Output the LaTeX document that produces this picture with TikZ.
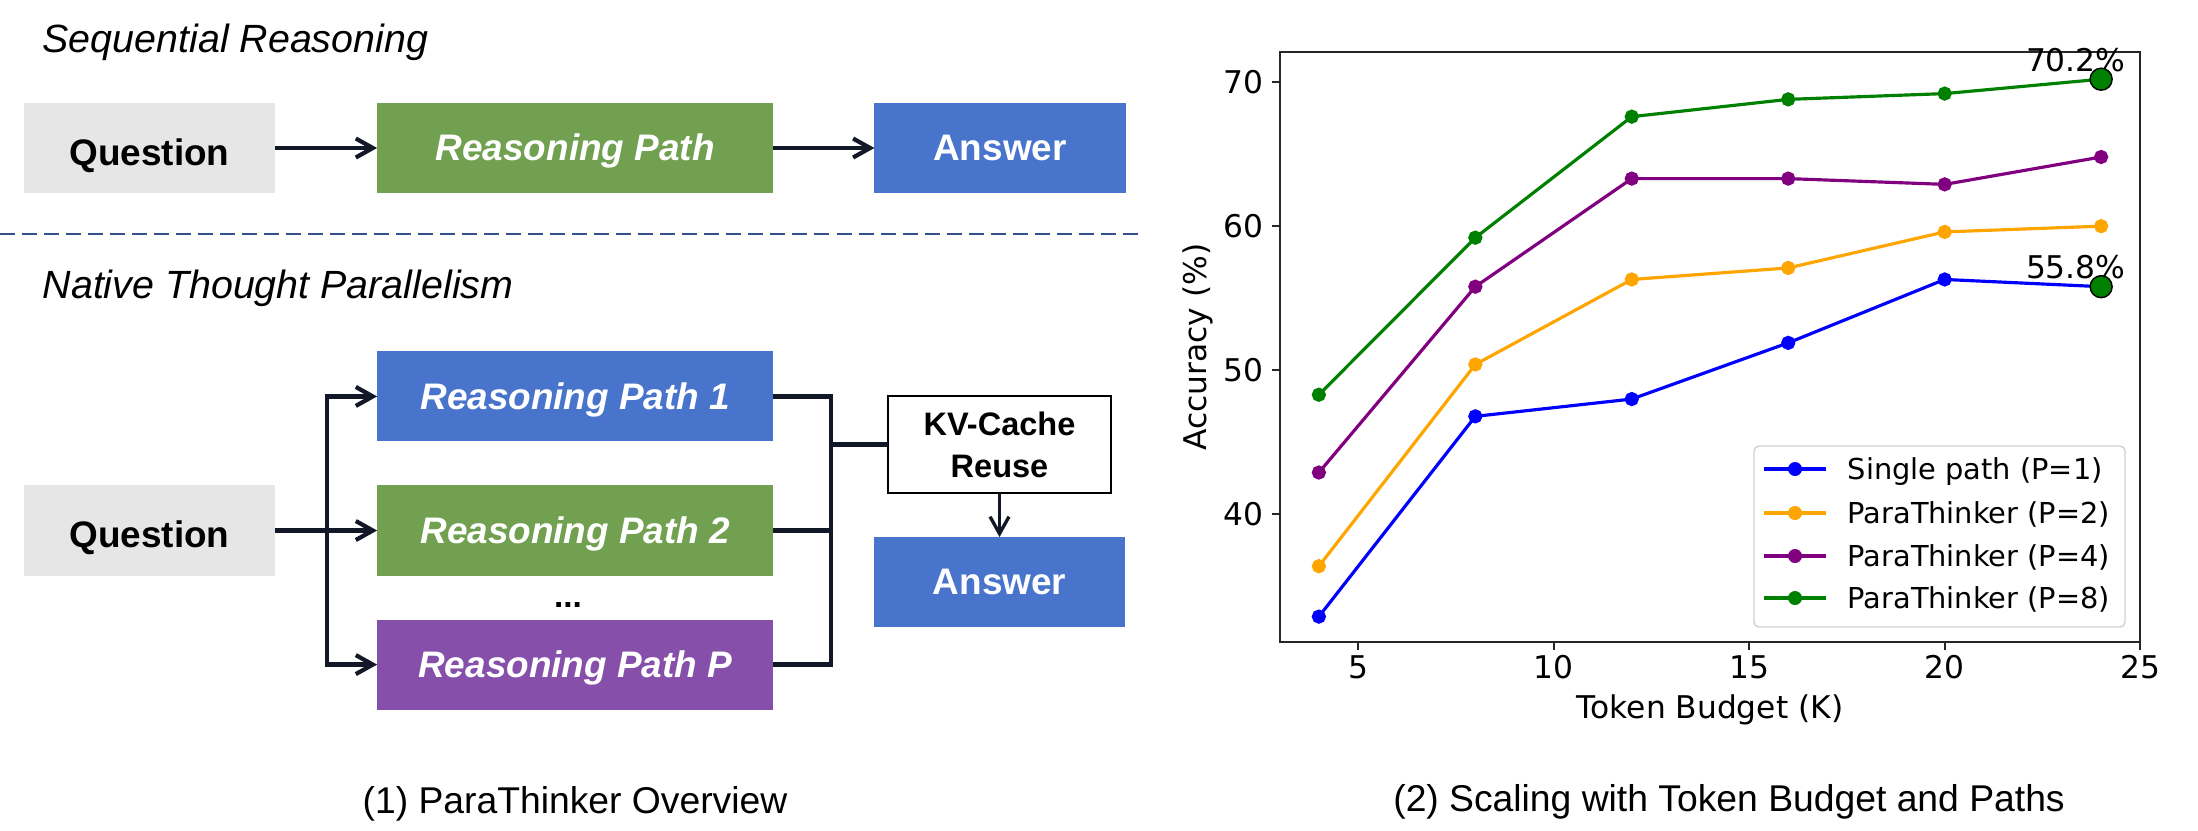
\documentclass[tikz,border=0pt]{standalone}
\usepackage{fontspec}
\setmainfont{Liberation Sans}
\newfontfamily\mplfont{DejaVu Sans}
\usetikzlibrary{
  arrows.meta,
  chains,
  positioning,
  scopes
}
\definecolor{qgray}{HTML}{E6E6E6}
\definecolor{pathgreen}{HTML}{70A050}
\definecolor{pathblue}{HTML}{4874CB}
\definecolor{pathpurple}{HTML}{8650AA}
\definecolor{wirecol}{HTML}{121827}
\definecolor{sepblue}{HTML}{34508C}
\definecolor{mplorange}{HTML}{FFA500}
\definecolor{mplpurple}{HTML}{800080}
\definecolor{mplgreen}{HTML}{008000}

\begin{document}
\begin{tikzpicture}[
      x=0.01cm, y=-0.01cm,
      block/.style={
         rectangle,
         inner sep=0pt, outer sep=0pt,
         minimum width=2.51cm,
         minimum height=0.9cm,
         font=\fontsize{10.5}{12}\selectfont\bfseries,
         text height=0.716em,
         text depth=0pt
      },
      question/.style={block, fill=qgray, text height=0.97em},
      answer/.style={block, fill=pathblue, text=white},
      reasonbox/.style={
         block,
         minimum width=3.96cm,
         text=white,
         font=\fontsize{10.5}{12}\selectfont\bfseries\itshape
      },
      cachebox/.style={
         rectangle,
         draw=black, line width=0.6pt, fill=white,
         minimum width=2.23cm, minimum height=0.97cm,
         inner sep=0pt, outer sep=0pt,
         align=center,
         font=\fontsize{9.25}{11.95}\selectfont\bfseries
      },
      sectitle/.style={anchor=base west, inner sep=0pt, font=\fontsize{11.2}{13}\selectfont\itshape},
      subcap/.style={anchor=base, inner sep=0pt, font=\fontsize{10.6}{12}\selectfont},
      wire/.style={draw=wirecol, line width=1.2pt},
      tip/.style={wire, -{Straight Barb[length=1.7mm, width=1.9mm]}},
      thin tip/.style={draw=wirecol, line width=0.95pt, -{Straight Barb[length=1.7mm, width=1.9mm]}},
      every join/.style={wire},
      % plot styles
      spine/.style={draw=black!85, line width=0.57pt},
      ticklab/.style={inner sep=0pt, font=\mplfont\fontsize{8.9}{10}\selectfont},
      curve/.style={line width=0.9pt, mark size=0.055cm},
      bigdot/.style={circle, fill=mplgreen, draw=black, line width=0.4pt, minimum size=0.22cm, inner sep=0pt},
      legtext/.style={anchor=base west, inner sep=0pt, font=\mplfont\fontsize{8.2}{10}\selectfont}
    ]
    \useasboundingbox (0,0) rectangle (2198,830);

    % sequential reasoning
    \node (t1) [sectitle] at (42,52) {Sequential Reasoning};
    \node (q1) [question] at (149.5,148) {Question};
    \node (r1) [reasonbox, fill=pathgreen, right=1.02cm of q1] {Reasoning Path};
    \node (a1) [answer, right=1.01cm of r1] {Answer};
  { [start chain]
       \chainin (q1);
       \chainin (r1)    [join=by tip];
       \chainin (a1)    [join=by tip];
  }

    \draw[draw=sepblue, line width=0.8pt, dash pattern=on 0.15cm off 0.07cm] (0,234) -- (1138,234);

    % native thought parallelism
    \node (t2) [sectitle] at (42,298) {Native Thought Parallelism};
    \node (q2) [question] at (149.5,530.5) {Question};
    \node (p2) [reasonbox, fill=pathgreen, right=1.02cm of q2] {Reasoning Path 2};
    \node (p1) [reasonbox, fill=pathblue, above=0.44cm of p2] {Reasoning Path 1};
    \node (pP) [reasonbox, fill=pathpurple, below=0.44cm of p2] {Reasoning Path P};
    \node (dots) [anchor=base, inner sep=0pt, font=\fontsize{9.5}{12}\selectfont\bfseries] at (568,607) {...};
    \node (kv) [cachebox] at (999.5,444.5) {KV-Cache\\Reuse};
    \node (a2) [answer, below=0.44cm of kv] {Answer};

    \coordinate (fork) at (327,530.5);
    \coordinate (merge) at (831,444.5);
    \draw[tip] (q2) -- (p2);
    \draw[tip] (fork) |- (p1);
    \draw[tip] (fork) |- (pP);
    \draw[wire] (p1.east) -| (merge) |- (pP.east);
    \draw[wire] (p2.east) -- (p2.east -| merge);
    \draw[wire] (merge) -- (kv);
    \draw[thin tip] (kv) -- (a2);

    \node (c1) [subcap] at (575,813) {(1) ParaThinker Overview};

    % accuracy plot
  \begin{scope}[shift={(11.6173cm,-10.9cm)}, x=0.3909cm, y=0.144cm]
    \draw[spine] (3,31.111) rectangle (25,72.083);
    \foreach \t in {5,10,15,20,25} {
       \draw[spine] (\t,31.111) -- ++(0cm,-0.08cm);
       \node[ticklab, anchor=base] at ([yshift=-0.36cm]\t,31.111) {\t};
    }
    \foreach \v in {40,50,60,70} {
       \draw[spine] (3,\v) -- ++(-0.08cm,0cm);
       \node[ticklab, anchor=base east] at ([xshift=-0.155cm,yshift=-0.113cm]3,\v) {\v};
    }
    \node (xl) [ticklab, anchor=base] at ([yshift=-0.76cm]14,31.111) {Token Budget (K)};
    \node (yl) [ticklab, anchor=base, rotate=90] at (1.1325,51.597) {Accuracy (\%)};

    \draw[curve, blue] plot[mark=*] coordinates {(4,32.9) (8,46.8) (12,48.0) (16,51.9) (20,56.3) (24,55.8)};
    \draw[curve, mplorange] plot[mark=*] coordinates {(4,36.4) (8,50.4) (12,56.3) (16,57.1) (20,59.6) (24,60.0)};
    \draw[curve, mplpurple] plot[mark=*] coordinates {(4,42.9) (8,55.8) (12,63.3) (16,63.3) (20,62.9) (24,64.8)};
    \draw[curve, mplgreen] plot[mark=*] coordinates {(4,48.3) (8,59.2) (12,67.6) (16,68.8) (20,69.2) (24,70.2)};

    \node (l8) [ticklab, anchor=base] at (23.35,70.76) {70.2\%};
    \node (l1) [ticklab, anchor=base] at (23.35,56.39) {55.8\%};
    \node (m8) [bigdot] at (24,70.2) {};
    \node (m1) [bigdot] at (24,55.8) {};
  \end{scope}

    % legend
    \draw[draw=black!18, fill=white, line width=0.4pt, rounded corners=0.05cm] (1754,446) rectangle (2125,627);
    \foreach \c/\r/\t in {blue/469/Single path (P=1), mplorange/513/ParaThinker (P=2), mplpurple/556/ParaThinker (P=4), mplgreen/598/ParaThinker (P=8)} {
       \draw[\c, line width=0.9pt] (1764,\r) -- (1826,\r);
       \fill[\c] (1795,\r) circle[radius=0.07cm];
       \node[legtext] at (1847,\r+10) {\t};
    }

    \node (c2) [subcap] at (1729,811) {(2) Scaling with Token Budget and Paths};
\end{tikzpicture}
\end{document}
